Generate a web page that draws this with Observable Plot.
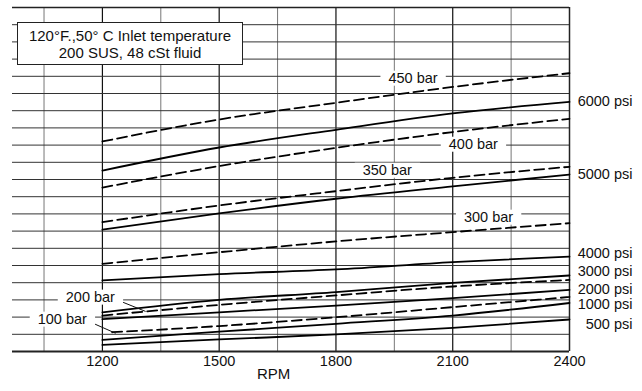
<!DOCTYPE html>
<html>
<head>
<meta charset="utf-8">
<script src="https://cdn.jsdelivr.net/npm/d3@7"></script>
<script src="https://cdn.jsdelivr.net/npm/@observablehq/plot@0.6"></script>
<style>
  html, body { margin: 0; padding: 0; background: #fff; }
  #chart { position: relative; width: 642px; height: 391px; font-family: "Liberation Sans", Arial, sans-serif; }
  #note {
    position: absolute; left: 17px; top: 22px; width: 224px; height: 41px;
    border: 1px solid #222; background: #fff; color: #111;
    font-size: 15px; line-height: 17px; text-align: center;
    display: flex; flex-direction: column; justify-content: center;
  }
</style>
</head>
<body>
<div id="chart">
  <div id="note"><div>120°F.,50° C Inlet temperature</div><div>200 SUS, 48 cSt fluid</div></div>
</div>
<script>
// ---- data (x = RPM, y = chart grid units, 20 divisions) ----
const rpm = [1200, 1500, 1800, 2100, 2400];
const xTicks = [1200, 1500, 1800, 2100, 2400];
const majorGridX = [1200, 1500, 1800, 2100];
const minorGridX = [1050, 1350, 1650, 1950, 2250];

// solid lines (psi)
const psiNames = ["6000 psi", "5000 psi", "4000 psi", "3000 psi", "2000 psi", "1000 psi", "500 psi"];
const psi6000 = [10.52, 11.86, 12.89, 13.84, 14.51];
const psi5000 = [7.08, 8.03, 8.88, 9.60, 10.29];
const psi4000 = [4.13, 4.50, 4.77, 5.20, 5.52];
const psi3000 = [2.28, 3.00, 3.45, 3.99, 4.42];
const psi2000 = [1.88, 2.28, 2.67, 3.10, 3.58];
const psi1000 = [0.67, 1.15, 1.61, 2.09, 2.82];
const psi500  = [0.38, 0.70, 0.99, 1.37, 1.86];
const psiValues = [psi6000, psi5000, psi4000, psi3000, psi2000, psi1000, psi500];
const psiLabelLevel = [14.53, 10.29, 5.70, 4.65, 3.60, 2.73, 1.57];

// dashed lines (bar)
const barNames = ["450 bar", "400 bar", "350 bar", "300 bar", "200 bar", "100 bar"];
const barStartRpm = [1200, 1200, 1200, 1200, 1200, 1225];
const bar450 = [12.21, 13.49, 14.46, 15.38, 16.18];
const bar400 = [9.53, 10.78, 11.84, 12.76, 13.53];
const bar350 = [7.52, 8.49, 9.32, 10.10, 10.74];
const bar300 = [5.10, 5.77, 6.40, 6.94, 7.46];
const bar200 = [2.09, 2.71, 3.26, 3.78, 4.16];
const bar100 = [1.12, 1.48, 1.99, 2.58, 3.17];
const barValues = [bar450, bar400, bar350, bar300, bar200, bar100];
const barLabelRpm = [1998, 2153, 1932, 2192, 1169, 1097];
const barLabelLevel = [15.87, 12.03, 10.52, 7.79, 3.14, 1.86];

// leader lines for 200 bar and 100 bar labels
const leaders = [
  {x1: 1241, y1: 2.97, x2: 1311, y2: 2.33},
  {x1: 1177, y1: 1.63, x2: 1234, y2: 1.06}
];

// ---- build tables ----
const solidRows = psiNames.flatMap((name, i) => rpm.map((r, j) => ({name, rpm: r, v: psiValues[i][j]})));
const dashedRows = barNames.flatMap((name, i) => rpm.map((r, j) => ({name, rpm: j === 0 ? barStartRpm[i] : r, v: barValues[i][j]})));
const psiLabels = psiNames.map((label, i) => ({label, level: psiLabelLevel[i]}));
const barLabels = barNames.map((label, i) => ({label, rpm: barLabelRpm[i], level: barLabelLevel[i]}));

const font = "Liberation Sans, Arial, sans-serif";
const chart = Plot.plot({
  width: 642,
  height: 391,
  marginTop: 7,
  marginBottom: 40,
  marginLeft: 12,
  marginRight: 73,
  style: {fontFamily: font, fontSize: "14.5px", background: "white", color: "#111", overflow: "visible"},
  x: {domain: [969, 2400], ticks: xTicks, tickSize: 0, tickPadding: 4, tickFormat: d3.format("d"), label: null},
  y: {domain: [0, 20], axis: null},
  marks: [
    Plot.ruleX(minorGridX, {stroke: "#777", strokeWidth: 1}),
    Plot.ruleX(majorGridX, {stroke: "#111", strokeWidth: 1.2}),
    Plot.ruleY(d3.range(1, 20), {stroke: "#333", strokeWidth: 1}),
    Plot.ruleY([20], {stroke: "#222", strokeWidth: 1.5}),
    Plot.ruleX([2400], {stroke: "#222", strokeWidth: 1.5}),
    Plot.ruleY([0], {stroke: "#222", strokeWidth: 2.2}),
    Plot.line(solidRows, {x: "rpm", y: "v", z: "name", stroke: "#000", strokeWidth: 1.8, curve: "monotone-x"}),
    Plot.line(dashedRows, {x: "rpm", y: "v", z: "name", stroke: "#000", strokeWidth: 1.8, strokeDasharray: "10,5", curve: "monotone-x"}),
    Plot.link(leaders, {x1: "x1", y1: "y1", x2: "x2", y2: "y2", stroke: "#111", strokeWidth: 1}),
    Plot.text(psiLabels, {x: 2400, y: "level", text: "label", textAnchor: "end", dx: 63, fontSize: 14.5, fill: "#111"}),
    Plot.text(barLabels, {x: "rpm", y: "level", text: "label", fontSize: 14.5, fill: "#111"}),
    Plot.text(["RPM"], {x: 1640, frameAnchor: "bottom", dy: 27, fontSize: 15, fill: "#111"})
  ]
});

const container = document.getElementById("chart");
container.insertBefore(chart, container.firstChild);

// white backgrounds behind bar labels (they interrupt the grid)
const ns = "http://www.w3.org/2000/svg";
const sb = chart.getBoundingClientRect();
const texts = Array.from(chart.querySelectorAll("text")).filter(t => barNames.includes(t.textContent));
if (texts.length) {
  const bg = document.createElementNS(ns, "g");
  texts.forEach(t => {
    const r = t.getBoundingClientRect();
    const rect = document.createElementNS(ns, "rect");
    rect.setAttribute("x", r.left - sb.left - 8);
    rect.setAttribute("y", r.top - sb.top + 0.5);
    rect.setAttribute("width", r.width + 16);
    rect.setAttribute("height", r.height - 1);
    rect.setAttribute("fill", "white");
    bg.appendChild(rect);
  });
  let top = texts[0];
  while (top.parentNode !== chart) top = top.parentNode;
  chart.insertBefore(bg, top);
}
</script>
</body>
</html>
